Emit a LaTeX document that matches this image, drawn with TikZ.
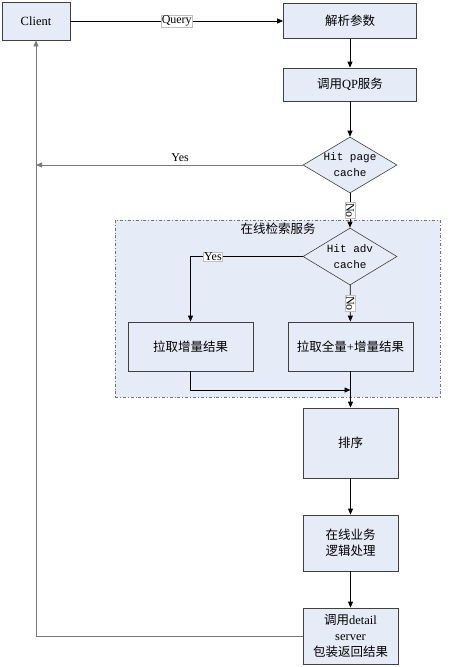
\documentclass[tikz,border=0pt]{standalone}
\usepackage{fontspec}
\setmainfont{Liberation Serif}
\setmonofont{Liberation Mono}
\newfontfamily\cjk{Noto Sans CJK SC}
\newcommand{\zh}[1]{{\cjk #1}}
\usetikzlibrary{shapes.geometric,arrows.meta}
\definecolor{boxblue}{HTML}{E6ECF7}
\definecolor{edgegray}{HTML}{7A7A7A}

\begin{document}
\begin{tikzpicture}[x=1pt,y=-1pt,>={Triangle[length=6pt,width=5pt]},line width=.8pt,
  box/.style={draw=black!75,fill=boxblue,align=center,inner sep=1pt,font=\fontsize{12.5}{16}\selectfont},
  test/.style={diamond,draw=black!75,fill=boxblue,line width=.6pt,aspect=1.7,minimum width=94pt,minimum height=56pt,inner sep=0pt,align=center,font=\ttfamily\fontsize{11}{16}\selectfont},
  tag/.style={fill=white,draw=black!25,line width=.3pt,inner sep=.8pt,font=\fontsize{12}{14}\selectfont}]
\useasboundingbox (0,0) rectangle (450,667);
% online search service group
\node[draw=black!55,dash dot,fill=boxblue,minimum width=325pt,minimum height=177pt] (srv) at (277.5,308.5) {};
\node[font=\fontsize{12.5}{14}\selectfont] (srvlbl) at (278,229) {\zh{在线检索服务}};
% boxes
\node[box,minimum width=68pt,minimum height=38pt] (cl) at (36,21) {Client};
\node[box,minimum width=133pt,minimum height=35pt] (parse) at (350,21) {\zh{解析参数}};
\node[box,minimum width=133pt,minimum height=33pt] (qp) at (350,84.5) {\zh{调用}QP\zh{服务}};
\node[test] (hitpage) at (350,165) {Hit page\\cache};
\node[test,minimum height=57pt] (hitadv) at (350,256.5) {Hit adv\\cache};
\node[box,minimum width=125pt,minimum height=49pt] (incr) at (190.5,346.5) {\zh{拉取增量结果}};
\node[box,minimum width=125pt,minimum height=49pt] (full) at (350.5,346.5) {\zh{拉取全量}+\zh{增量结果}};
\node[box,minimum width=95pt,minimum height=70pt] (sort) at (350.5,443) {\zh{排序}};
\node[box,minimum width=95pt,minimum height=56pt] (logic) at (350.5,543) {\zh{在线业务}\\\zh{逻辑处理}};
\node[box,minimum width=95pt,minimum height=56pt] (detail) at (350.5,636) {\zh{调用}detail\\server\\\zh{包装返回结果}};
\coordinate (join) at (350.5,390);
% connectors
\draw[->] (cl) -- node[tag]{Query} (parse);
\draw[->] (parse) -- (qp);
\draw[->] (qp) -- (hitpage);
\draw[->,draw=edgegray] (hitpage.west) -- node[above,pos=.46,font=\fontsize{12}{14}\selectfont]{Yes} (hitpage.west -| cl.south);
\draw[->] (hitpage) -- node[tag,rotate=-90]{No} (hitadv);
\draw[->] (hitadv.west) -| node[tag,pos=.4]{Yes} (incr);
\draw[->] (hitadv) -- node[tag,rotate=-90]{No} (full);
\draw[->] (incr) |- (join);
\draw[->] (full) -- (sort);
\draw[->] (sort) -- (logic);
\draw[->] (logic) -- (detail);
\draw[->,draw=edgegray] (detail) -| (cl);
\end{tikzpicture}
\end{document}
